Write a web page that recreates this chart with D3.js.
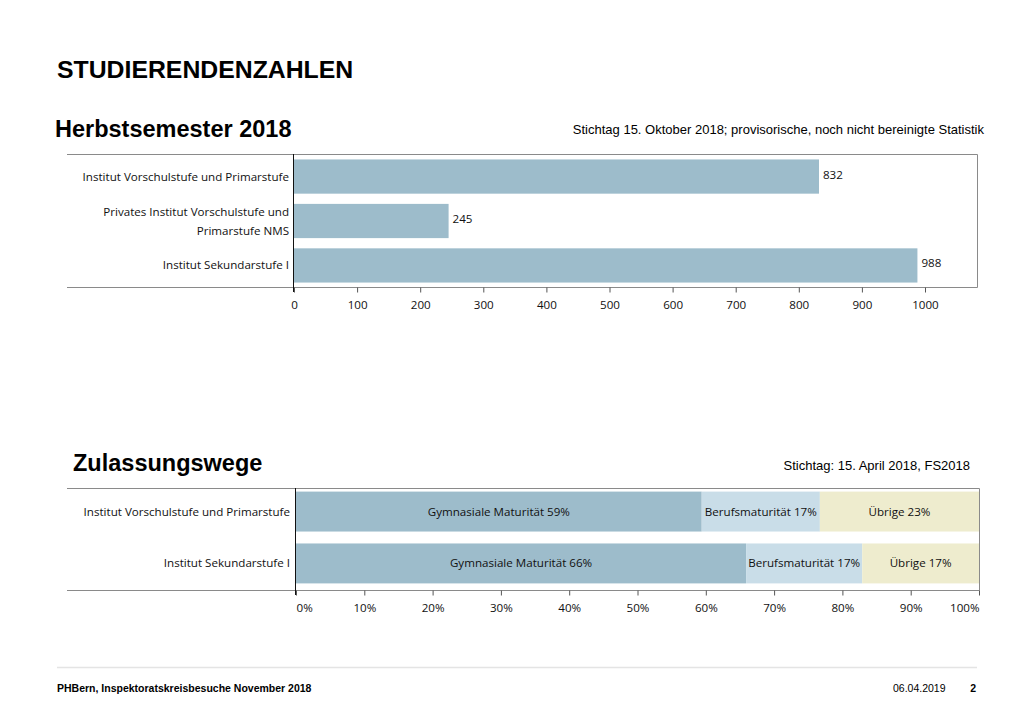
<!DOCTYPE html>
<html>
<head>
<meta charset="utf-8">
<script src="https://cdn.jsdelivr.net/npm/d3@7"></script>
<style>
  body { margin: 0; background: #fff; }
  svg { display: block; }
  .title { font-family: "Liberation Sans", Arial, sans-serif; font-weight: bold; fill: #000; }
  .note { font-family: "Liberation Sans", Arial, sans-serif; font-size: 13px; fill: #000; }
  .lab { font-family: "Open Sans", "Noto Sans", sans-serif; font-size: 11.6px; fill: #111; }
  .foot { font-family: "Liberation Sans", Arial, sans-serif; font-size: 10.5px; fill: #000; }
</style>
</head>
<body>
<svg width="1024" height="709"></svg>
<script>
// data: Herbstsemester 2018
var hsCategories = [
  ["Institut Vorschulstufe und Primarstufe"],
  ["Privates Institut Vorschulstufe und", "Primarstufe NMS"],
  ["Institut Sekundarstufe I"]
];
var hsValues = [832, 245, 988];
var hsTicks = [0, 100, 200, 300, 400, 500, 600, 700, 800, 900, 1000];

// data: Zulassungswege (percent)
var zwCategories = ["Institut Vorschulstufe und Primarstufe", "Institut Sekundarstufe I"];
var zwSeries = ["Gymnasiale Maturität", "Berufsmaturität", "Übrige"];
var zwGym = [59.4, 65.9];
var zwBeruf = [17.3, 17.0];
var zwUebrige = [23.3, 17.1];
var zwTicks = [0, 10, 20, 30, 40, 50, 60, 70, 80, 90, 100];

var svg = d3.select("svg");

// headings
svg.append("text").attr("class", "title").attr("x", 57).attr("y", 78)
  .style("font-size", "24.8px").text("STUDIERENDENZAHLEN");
svg.append("text").attr("class", "title").attr("x", 55).attr("y", 137)
  .style("font-size", "23.5px").text("Herbstsemester 2018");
svg.append("text").attr("class", "note").attr("x", 984).attr("y", 134)
  .attr("text-anchor", "end")
  .text("Stichtag 15. Oktober 2018; provisorische, noch nicht bereinigte Statistik");
svg.append("text").attr("class", "title").attr("x", 73).attr("y", 471)
  .style("font-size", "23.5px").text("Zulassungswege");
svg.append("text").attr("class", "note").attr("x", 970).attr("y", 470)
  .attr("text-anchor", "end").text("Stichtag: 15. April 2018, FS2018");

// ---- chart 1 ----
var x1 = d3.scaleLinear().domain([0, 1000]).range([294, 925]);
var y1 = d3.scaleBand().domain(d3.range(hsValues.length))
  .range([155, 287]).paddingInner(0.23).paddingOuter(0.1);

var g1 = svg.append("g");
g1.append("path").attr("d", "M67,154.5H977.5V287.5H67")
  .attr("fill", "none").attr("stroke", "#8a8a8a");

g1.selectAll("rect").data(hsValues).enter().append("rect")
  .attr("x", x1(0))
  .attr("y", function(d, i) { return y1(i); })
  .attr("width", function(d) { return x1(d) - x1(0); })
  .attr("height", y1.bandwidth())
  .attr("fill", "#9dbccb");

g1.selectAll(".val").data(hsValues).enter().append("text")
  .attr("class", "lab")
  .attr("x", function(d) { return x1(d) + 4; })
  .attr("y", function(d, i) { return y1(i) + y1.bandwidth() / 2 + 2; })
  .text(function(d) { return d; });

hsCategories.forEach(function(lines, i) {
  var cy = y1(i) + y1.bandwidth() / 2;
  lines.forEach(function(line, j) {
    g1.append("text").attr("class", "lab").attr("text-anchor", "end")
      .attr("x", 289)
      .attr("y", cy + 4 + (j - (lines.length - 1) / 2) * 19)
      .text(line);
  });
});

var ax1 = g1.append("g").attr("transform", "translate(0,287.5)")
  .call(d3.axisBottom(x1).tickValues(hsTicks).tickSize(5).tickPadding(8)
    .tickFormat(d3.format("d")));
ax1.select(".domain").remove();
ax1.selectAll(".tick line").attr("stroke", "#555");
ax1.selectAll(".tick text").attr("class", "lab").attr("fill", "#111")
  .style("font-size", "11.6px");

g1.append("line").attr("x1", 293.5).attr("x2", 293.5).attr("y1", 154).attr("y2", 292)
  .attr("stroke", "#111");

// ---- chart 2 ----
var x2 = d3.scaleLinear().domain([0, 100]).range([296, 979]);
var y2 = d3.scaleBand().domain(d3.range(zwCategories.length))
  .range([489, 586]).paddingInner(0.23).paddingOuter(0.05);
var zwColors = ["#9dbccb", "#c9dde8", "#eeecce"];

var g2 = svg.append("g");
g2.append("path").attr("d", "M67,488.5H979.5V590.5H67")
  .attr("fill", "none").attr("stroke", "#8a8a8a");

var rows = zwCategories.map(function(c, i) {
  return [zwGym[i], zwBeruf[i], zwUebrige[i]];
});
var stack = rows.map(function(r) {
  var acc = 0;
  return r.map(function(v, k) {
    var s = { x0: acc, x1: acc + v, v: v, k: k };
    acc += v;
    return s;
  });
});

stack.forEach(function(segs, i) {
  var row = g2.append("g");
  row.selectAll("rect").data(segs).enter().append("rect")
    .attr("x", function(d) { return x2(d.x0); })
    .attr("y", y2(i))
    .attr("width", function(d) { return x2(d.x1) - x2(d.x0); })
    .attr("height", y2.bandwidth())
    .attr("fill", function(d) { return zwColors[d.k]; });
  row.selectAll("text").data(segs).enter().append("text")
    .attr("class", "lab").attr("text-anchor", "middle")
    .attr("x", function(d) { return (x2(d.x0) + x2(d.x1)) / 2; })
    .attr("y", y2(i) + y2.bandwidth() / 2 + 4)
    .text(function(d) { return zwSeries[d.k] + " " + Math.round(d.v) + "%"; });
  g2.append("text").attr("class", "lab").attr("text-anchor", "end")
    .attr("x", 290).attr("y", y2(i) + y2.bandwidth() / 2 + 4)
    .text(zwCategories[i]);
});

var ax2 = g2.append("g").attr("transform", "translate(0,590.5)")
  .call(d3.axisBottom(x2).tickValues(zwTicks).tickSize(5).tickPadding(8)
    .tickFormat(function(d) { return d + "%"; }));
ax2.select(".domain").remove();
ax2.selectAll(".tick line").attr("stroke", "#555");
ax2.selectAll(".tick text").attr("class", "lab").attr("fill", "#111")
  .style("font-size", "11.6px")
  .attr("text-anchor", function(d) { return d === 0 ? "start" : d === 100 ? "end" : "middle"; });

g2.append("line").attr("x1", 295.5).attr("x2", 295.5).attr("y1", 488).attr("y2", 595)
  .attr("stroke", "#111");

// footer
svg.append("line").attr("x1", 57).attr("x2", 977).attr("y1", 667.5).attr("y2", 667.5)
  .attr("stroke", "#e4e4e4").attr("stroke-width", 1.5);
svg.append("text").attr("class", "foot").attr("x", 57).attr("y", 692)
  .style("font-weight", "bold").text("PHBern, Inspektoratskreisbesuche November 2018");
svg.append("text").attr("class", "foot").attr("x", 893).attr("y", 692)
  .text("06.04.2019");
svg.append("text").attr("class", "foot").attr("x", 976).attr("y", 692)
  .attr("text-anchor", "end").style("font-weight", "bold").text("2");
</script>
</body>
</html>
